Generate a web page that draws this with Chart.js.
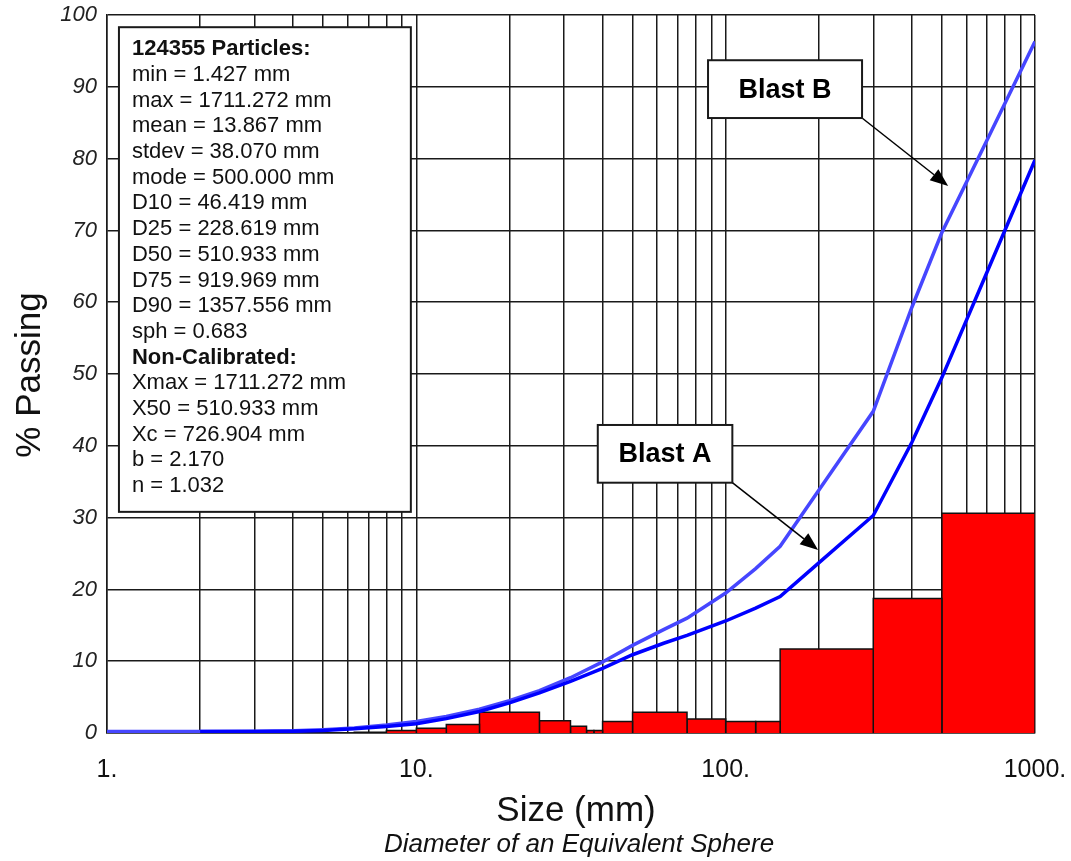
<!DOCTYPE html>
<html>
<head>
<meta charset="utf-8">
<script src="https://cdn.jsdelivr.net/npm/chart.js@4.4.1/dist/chart.umd.min.js"></script>
<style>
  html, body { margin: 0; padding: 0; background: #fff; }
  #wrap { width: 1071px; height: 861px; }
</style>
</head>
<body>
<div id="wrap"><canvas id="grafico" width="1071" height="861"></canvas></div>
<script>
// curvas acumuladas (% pasante)
const sizes  = [1, 2, 3, 4, 5, 6.3, 8, 10, 12.5, 16, 20, 25, 31.5, 40, 50, 63, 75, 100, 125, 150, 200, 300, 400, 500, 700, 1000];
const blastB = [0.2, 0.2, 0.25, 0.3, 0.45, 0.7, 1.1, 1.6, 2.3, 3.3, 4.5, 5.9, 7.7, 9.9, 12.2, 14.4, 16.0, 19.5, 22.9, 26.0, 33.8, 44.8, 59.3, 69.7, 82.6, 96.3];
const blastA = [null, 0.2, 0.2, 0.25, 0.35, 0.6, 0.9, 1.3, 2.0, 3.0, 4.2, 5.6, 7.2, 9.0, 10.9, 12.5, 13.6, 15.6, 17.4, 19.0, 23.7, 30.3, 40.5, 49.5, 64.2, 79.8];

// histograma (% retenido por clase)
const binLo  = [6.3, 8, 10, 12.5, 16, 25, 31.5, 35.5, 37.5, 40, 50, 75, 100, 125, 150, 300, 500];
const binHi  = [8, 10, 12.5, 16, 25, 31.5, 35.5, 37.5, 40, 50, 75, 100, 125, 150, 300, 500, 1000];
const binPct = [0.1, 0.35, 0.65, 1.2, 2.9, 1.7, 0.95, 0.35, 0.35, 1.6, 2.9, 1.95, 1.6, 1.6, 11.7, 18.75, 30.6];

// ejes
const xGrid = [1, 2, 3, 4, 5, 6, 7, 8, 9, 10, 20, 30, 40, 50, 60, 70, 80, 90, 100, 200, 300, 400, 500, 600, 700, 800, 900, 1000];
const xTickVals = [1, 10, 100, 1000];
const xTickText = ['1.', '10.', '100.', '1000.'];

// texto del cuadro de estadisticas
const statLines = [
    '124355 Particles:', 'min = 1.427 mm', 'max = 1711.272 mm', 'mean = 13.867 mm',
    'stdev = 38.070 mm', 'mode = 500.000 mm', 'D10 = 46.419 mm', 'D25 = 228.619 mm',
    'D50 = 510.933 mm', 'D75 = 919.969 mm', 'D90 = 1357.556 mm', 'sph = 0.683',
    'Non-Calibrated:', 'Xmax = 1711.272 mm', 'X50 = 510.933 mm', 'Xc = 726.904 mm',
    'b = 2.170', 'n = 1.032'
];
const statBold = [0, 12];

// etiquetas de las curvas (cuadro en coordenadas de datos y punta de flecha)
const notas = [
    { texto: 'Blast B', x1: 87.7, x2: 276, y1: 93.7, y2: 85.65, tx: 524, ty: 76.2 },
    { texto: 'Blast A', x1: 38.6, x2: 105.1, y1: 42.9, y2: 34.86, tx: 199, ty: 25.5 }
];

const FUENTE = "'Liberation Sans', Arial, Helvetica, sans-serif";
const LINEA = '#1a1a1a';

function puntos(vals) {
    const out = [];
    sizes.forEach((s, i) => { if (vals[i] !== null) out.push({ x: s, y: vals[i] }); });
    return out;
}

const datasets = [];
binPct.forEach((h, i) => {
    datasets.push({
        label: 'bin' + i,
        data: [{ x: binLo[i], y: 0 }, { x: binLo[i], y: h }, { x: binHi[i], y: h }, { x: binHi[i], y: 0 }],
        fill: 'origin',
        backgroundColor: '#ff0000',
        borderColor: '#111',
        borderWidth: 1.5,
        pointRadius: 0,
        tension: 0,
        order: 10
    });
});
datasets.push({
    label: 'Blast B', data: puntos(blastB), borderColor: '#4646ff', borderWidth: 3.5,
    pointRadius: 0, tension: 0, fill: false, order: 2
});
datasets.push({
    label: 'Blast A', data: puntos(blastA), borderColor: '#0000ff', borderWidth: 3.5,
    pointRadius: 0, tension: 0, fill: false, order: 1
});

function flecha(ctx, x0, y0, x1, y1) {
    const ang = Math.atan2(y1 - y0, x1 - x0);
    const largo = 18, ancho = 7;
    const bx = x1 - largo * Math.cos(ang), by = y1 - largo * Math.sin(ang);
    ctx.beginPath();
    ctx.moveTo(x0, y0);
    ctx.lineTo(bx, by);
    ctx.lineWidth = 1.5;
    ctx.strokeStyle = '#000';
    ctx.stroke();
    ctx.beginPath();
    ctx.moveTo(x1, y1);
    ctx.lineTo(bx + ancho * Math.sin(ang), by - ancho * Math.cos(ang));
    ctx.lineTo(bx - ancho * Math.sin(ang), by + ancho * Math.cos(ang));
    ctx.closePath();
    ctx.fillStyle = '#000';
    ctx.fill();
}

const extras = {
    id: 'extras',
    afterDatasetsDraw(chart) {
        const { ctx, scales: { x, y } } = chart;
        ctx.save();
        // cuadro de estadisticas
        const bx1 = x.getPixelForValue(1.093), bx2 = x.getPixelForValue(9.6);
        const by1 = y.getPixelForValue(98.3), by2 = y.getPixelForValue(30.8);
        ctx.fillStyle = '#fff';
        ctx.fillRect(bx1, by1, bx2 - bx1, by2 - by1);
        ctx.lineWidth = 2;
        ctx.strokeStyle = LINEA;
        ctx.strokeRect(bx1, by1, bx2 - bx1, by2 - by1);
        ctx.fillStyle = '#111';
        ctx.textAlign = 'left';
        ctx.textBaseline = 'alphabetic';
        statLines.forEach((t, i) => {
            ctx.font = (statBold.includes(i) ? 'bold ' : '') + '22px ' + FUENTE;
            ctx.fillText(t, bx1 + 13, by1 + 28 + i * 25.7);
        });
        // etiquetas Blast A / Blast B
        notas.forEach(n => {
            const l = x.getPixelForValue(n.x1), r = x.getPixelForValue(n.x2);
            const t = y.getPixelForValue(n.y1), b = y.getPixelForValue(n.y2);
            flecha(ctx, r, b, x.getPixelForValue(n.tx), y.getPixelForValue(n.ty));
            ctx.fillStyle = '#fff';
            ctx.fillRect(l, t, r - l, b - t);
            ctx.lineWidth = 2;
            ctx.strokeStyle = LINEA;
            ctx.strokeRect(l, t, r - l, b - t);
            ctx.fillStyle = '#000';
            ctx.font = 'bold 27px ' + FUENTE;
            ctx.textAlign = 'center';
            ctx.textBaseline = 'middle';
            ctx.fillText(n.texto, (l + r) / 2, (t + b) / 2 + 1);
        });
        ctx.restore();
    },
    afterDraw(chart) {
        const { ctx } = chart;
        ctx.save();
        ctx.fillStyle = '#111';
        ctx.textAlign = 'center';
        ctx.textBaseline = 'alphabetic';
        ctx.font = '35px ' + FUENTE;
        ctx.fillText('Size (mm)', 576, 821);
        ctx.font = 'italic 26px ' + FUENTE;
        ctx.fillText('Diameter of an Equivalent Sphere', 579, 852);
        ctx.translate(30, 375);
        ctx.rotate(-Math.PI / 2);
        ctx.font = '35px ' + FUENTE;
        ctx.textBaseline = 'middle';
        ctx.fillText('% Passing', 0, 0);
        ctx.restore();
    }
};

new Chart(document.getElementById('grafico').getContext('2d'), {
    type: 'line',
    data: { datasets: datasets },
    options: {
        responsive: false,
        animation: false,
        events: [],
        layout: { padding: { left: 0, top: 15, right: 36, bottom: 0 } },
        plugins: { legend: { display: false }, tooltip: { enabled: false } },
        scales: {
            x: {
                type: 'logarithmic',
                position: 'bottom',
                min: 1,
                max: 1000,
                afterBuildTicks: s => { s.ticks = xGrid.map(v => ({ value: v })); },
                afterFit: s => {
                    s.height = 128;
                    s.paddingLeft = 0;
                    s.paddingRight = 0;
                },
                grid: { color: LINEA, lineWidth: 1.5, drawTicks: false },
                border: { color: LINEA, width: 1.5 },
                ticks: {
                    autoSkip: false,
                    maxRotation: 0,
                    padding: 22,
                    color: '#111',
                    font: { family: FUENTE, size: 25 },
                    callback: v => {
                        const k = xTickVals.indexOf(v);
                        return k >= 0 ? xTickText[k] : '';
                    }
                }
            },
            y: {
                type: 'linear',
                min: 0,
                max: 100,
                afterFit: s => {
                    s.width = 107;
                    s.paddingTop = 0;
                    s.paddingBottom = 0;
                },
                grid: { color: LINEA, lineWidth: 1.5, drawTicks: false },
                border: { color: LINEA, width: 1.5 },
                ticks: {
                    stepSize: 10,
                    padding: 10,
                    color: '#222',
                    font: { family: FUENTE, size: 22, style: 'italic' }
                }
            }
        }
    },
    plugins: [extras]
});
</script>
</body>
</html>
